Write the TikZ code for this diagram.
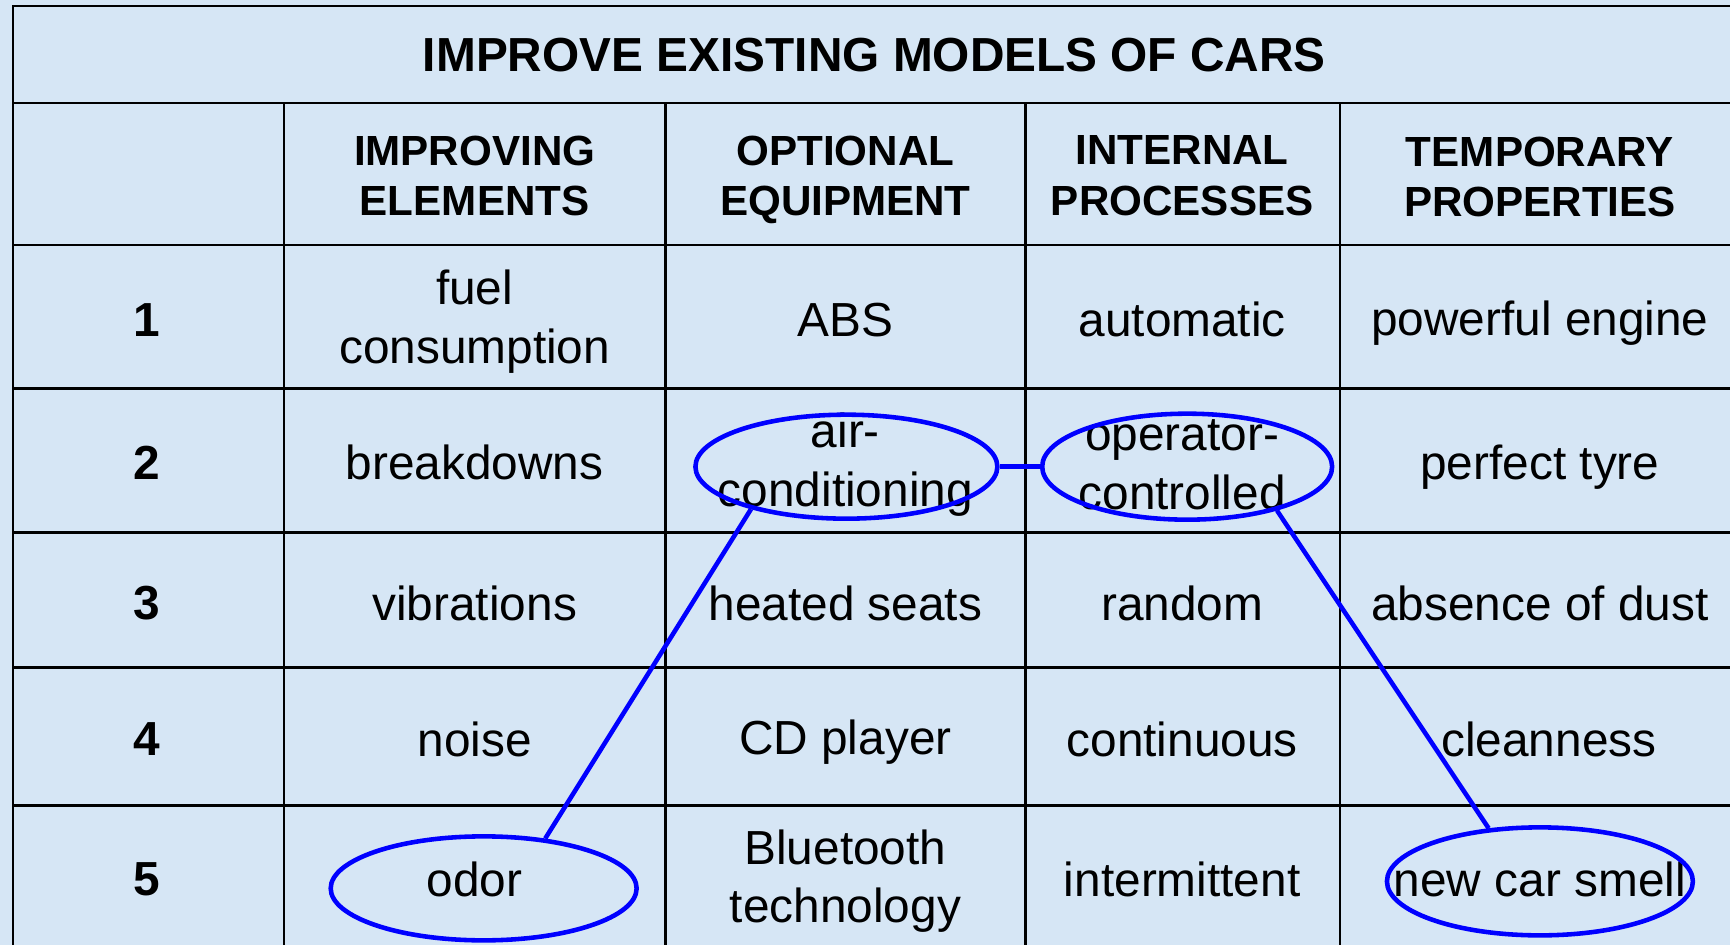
\documentclass[tikz,border=0pt]{standalone}
\usepackage{fontspec}
\setmainfont{Liberation Sans}
\usetikzlibrary{positioning,shapes.geometric}
\definecolor{paper}{RGB}{214,230,245}
\definecolor{ringblue}{RGB}{0,0,255}
\tikzset{
	tableline/.style = {draw = black, line width = 0.7pt},
	cell/.style = {align = center, inner sep = 0mm, font = \fontsize{13.6}{16.6}\selectfont},
	head/.style = {align = center, inner sep = 0mm, font = \bfseries\fontsize{12}{14.4}\selectfont},
	rownum/.style = {inner sep = 0mm, font = \bfseries\fontsize{13.6}{15.7}\selectfont},
	ring/.style = {draw = ringblue, ellipse, line width = 1.3pt, inner sep = 0mm},
	link/.style = {draw = ringblue, line width = 1.3pt}
}
\begin{document}
\begin{tikzpicture}[x=0.01cm, y=-0.01cm]
	\fill [paper] (0,0) rectangle (1731,946);
	% table rules
	\draw [tableline] (1731,6) -- (13,6) -- (13,946);
	\draw [tableline] (13,103) -- (1731,103);
	\draw [tableline] (13,245) -- (1731,245);
	\draw [tableline] (13,389) -- (1731,389);
	\draw [tableline] (13,533) -- (1731,533);
	\draw [tableline] (13,668) -- (1731,668);
	\draw [tableline] (13,806) -- (1731,806);
	\draw [tableline] (284,103) -- (284,946);
	\draw [tableline] (666,103) -- (666,946);
	\draw [tableline] (1026,103) -- (1026,946);
	\draw [tableline] (1341,103) -- (1341,946);

	\node (title) [rownum] at (875,55) {IMPROVE EXISTING MODELS OF CARS};
	\node (improving) [head] at (475,176) {IMPROVING\\ELEMENTS};
	\node (optional) [head] at (846,180) {OPTIONAL\\EQUIPMENT};
	\node (internal) [head] at (1183,176) {INTERNAL\\PROCESSES};
	\node (temporary) [head] at (1541,177) {TEMPORARY\\PROPERTIES};

	\node (one) [rownum] at (147,320) {1};
	\node (two) [rownum] at (147,463) {2};
	\node (three) [rownum] at (147,604) {3};
	\node (four) [rownum] at (147,740) {4};
	\node (five) [rownum] at (147,880) {5};

	\node (fuel) [cell] at (475,322) {fuel\\consumption};
	\node (abs) [cell] at (846,320) {ABS};
	\node (automatic) [cell] at (1183,320) {automatic};
	\node (engine) [cell] at (1541,323) {powerful engine};

	\node (breakdowns) [cell] at (475,463) {breakdowns};
	\node (aircon) [cell] at (846,465) {air-\\conditioning};
	\node (operator) [cell] at (1183,465) {operator-\\controlled};
	\node (tyre) [cell] at (1541,467) {perfect tyre};

	\node (vibrations) [cell] at (475,604) {vibrations};
	\node (seats) [cell] at (846,604) {heated seats};
	\node (random) [cell] at (1183,604) {random};
	\node (dust) [cell] at (1541,604) {absence of dust};

	\node (noise) [cell] at (475,740) {noise};
	\node (cdplayer) [cell] at (846,743) {CD player};
	\node (continuous) [cell] at (1183,740) {continuous};
	\node (cleanness) [cell] at (1550,740) {cleanness};

	\node (odor) [cell] at (475,880) {odor};
	\node (bluetooth) [cell] at (846,882) {Bluetooth\\technology};
	\node (intermittent) [cell] at (1183,880) {intermittent};
	\node (smell) [cell] at (1541,880) {new car smell};

	% the marked cells
	\node (airring) [ring, minimum width = 3.02cm, minimum height = 1.04cm] at (847,467) {};
	\node (opring) [ring, minimum width = 2.9cm, minimum height = 1.06cm] at (1188,467) {};
	\node (odorring) [ring, minimum width = 3.06cm, minimum height = 1.04cm] at (484,889) {};
	\node (smellring) [ring, minimum width = 3.06cm, minimum height = 1.08cm] at (1541,882) {};
	\draw [link] (airring.east) -- (opring.west);
	\draw [link] (airring.204) -- (odorring.39);
	\draw [link] (opring.334) -- (smellring.134);
\end{tikzpicture}
\end{document}
